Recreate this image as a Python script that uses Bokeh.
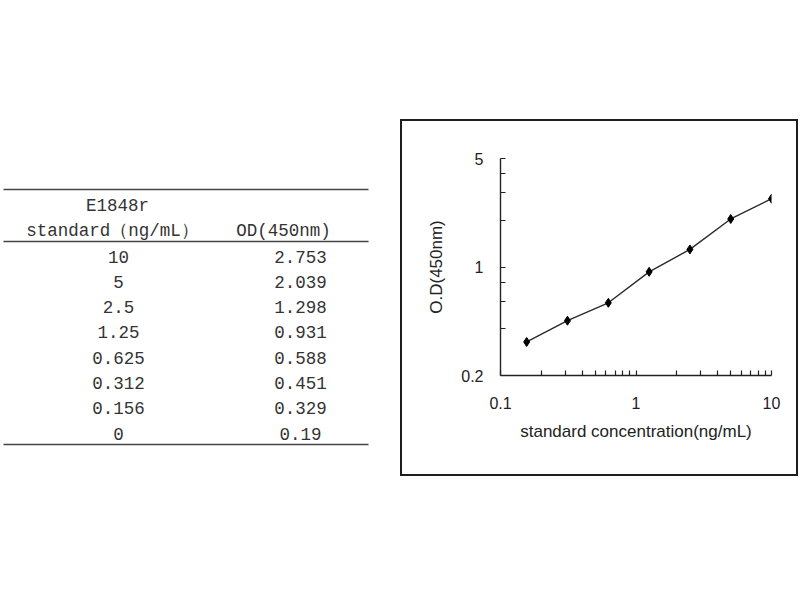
from bokeh.plotting import figure
from bokeh.layouts import row, column
from bokeh.models import Spacer, Range1d, FixedTicker, CustomJSTickFormatter, ColumnDataSource
from bokeh.core.properties import value
from bokeh.embed import file_html
from bokeh.resources import INLINE

# ---- data -------------------------------------------------------------
kit_name = "E1848r"
std_header = "standard（ng/mL）"
od_header = "OD(450nm)"
std_labels = ["10", "5", "2.5", "1.25", "0.625", "0.312", "0.156", "0"]
std_conc = [10, 5, 2.5, 1.25, 0.625, 0.312, 0.156, 0]
od_values = [2.753, 2.039, 1.298, 0.931, 0.588, 0.451, 0.329, 0.19]

x_major = [0.1, 1, 10]
x_minor = [0.2, 0.3, 0.4, 0.5, 0.6, 0.7, 0.8, 0.9, 2, 3, 4, 5, 6, 7, 8, 9]
y_major = [0.2, 1, 5]
y_minor = [0.4, 0.6, 0.8, 2, 3, 4]

x_title = "standard concentration(ng/mL)"
y_title = "O.D(450nm)"

INK = "#222222"
TABLE_FONT = value("Liberation Mono")
CHART_FONT = "Liberation Sans"

# ---- standard table (pixel-like coordinates, y grows downward) ----------
table = figure(width=400, height=600, x_range=Range1d(0, 400), y_range=Range1d(600, 0),
               toolbar_location=None, output_backend="svg", min_border=0,
               x_axis_location=None, y_axis_location=None)
table.grid.visible = False
table.outline_line_color = None

col1_x, col2_x = 118, 300
row0_y, row_step = 256, 25.3
rows_y = [row0_y + i * row_step for i in range(len(std_labels))]

table.text(x=[col1_x] * len(std_labels), y=rows_y, text=std_labels,
           text_align="center", text_baseline="middle", text_font=TABLE_FONT,
           text_font_size="17.5px", text_color="#333333")
table.text(x=[col2_x] * len(od_values), y=rows_y, text=[str(v) for v in od_values],
           text_align="center", text_baseline="middle", text_font=TABLE_FONT,
           text_font_size="17.5px", text_color="#333333")
table.text(x=[117, 112, 283], y=[205, 230, 230], text=[kit_name, std_header, od_header],
           text_align="center", text_baseline="middle", text_font=TABLE_FONT,
           text_font_size="17.5px", text_color="#333333")

# horizontal rules of the table
table.segment(x0=[3, 3, 3], y0=[189, 241, 444], x1=[368, 368, 368], y1=[189, 241, 444],
              line_color="#444444", line_width=1.6)

# ---- standard curve ---------------------------------------------------
curve = ColumnDataSource(dict(x=[c for c in std_conc if c > 0],
                              y=[v for c, v in zip(std_conc, od_values) if c > 0]))

# the 2px frame is drawn outside the canvas (content-box sizing)
chart = figure(width=394, height=353, x_axis_type="log", y_axis_type="log",
               x_range=Range1d(0.1, 10), y_range=Range1d(0.2, 5),
               min_border_left=98, min_border_right=29, min_border_top=37, min_border_bottom=103,
               toolbar_location=None, output_backend="svg",
               x_axis_label=x_title, y_axis_label=y_title)
chart.styles = {"border": "2px solid #1e1e1e", "box-sizing": "content-box"}
chart.grid.visible = False
chart.outline_line_color = None

chart.line("x", "y", source=curve, line_color="#2a2a2a", line_width=1.4)
chart.scatter("x", "y", source=curve, marker="diamond", size=9, fill_color="black", line_color="black")

chart.xaxis.ticker = FixedTicker(ticks=x_major, minor_ticks=x_minor)
chart.yaxis.ticker = FixedTicker(ticks=y_major, minor_ticks=y_minor)
fmt = CustomJSTickFormatter(code="return String(tick);")
for ax in chart.axis:
    ax.formatter = fmt
    ax.axis_line_color = INK
    ax.axis_line_width = 1.4
    ax.major_tick_line_color = INK
    ax.minor_tick_line_color = INK
    ax.major_tick_line_width = 1.2
    ax.minor_tick_line_width = 1.2
    ax.major_tick_in = 5
    ax.major_tick_out = 0
    ax.minor_tick_in = 5
    ax.minor_tick_out = 0
    ax.major_label_text_font = CHART_FONT
    ax.major_label_text_font_size = "16px"
    ax.major_label_text_color = INK
    ax.axis_label_text_font = CHART_FONT
    ax.axis_label_text_font_size = "17px"
    ax.axis_label_text_font_style = "normal"
    ax.axis_label_text_color = INK

chart.xaxis.major_label_standoff = 21
chart.xaxis.axis_label_standoff = 10
chart.yaxis.major_label_standoff = 17
chart.yaxis.axis_label_standoff = 12

page = row(table, column(Spacer(height=119), chart))

with open("out.html", "w") as f:
    f.write(file_html(page, INLINE, title="E1848r standard curve"))
